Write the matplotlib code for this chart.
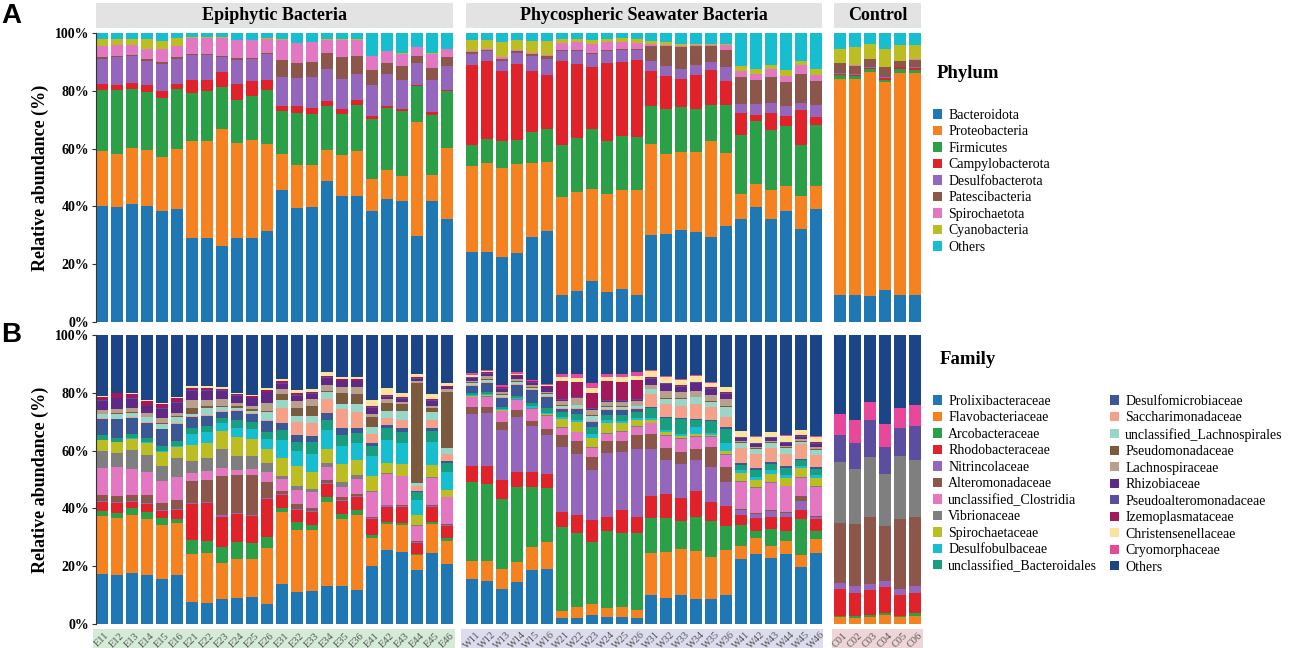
"""Stacked relative-abundance bars (phylum and family) for three sample groups."""

import numpy as np
import matplotlib.pyplot as plt
from matplotlib.patches import Rectangle, Patch

plt.rcParams['font.family'] = ['Liberation Serif', 'DejaVu Serif']

# ---- data ---------------------------------------------------------------
group_names = ["Epiphytic Bacteria", "Phycospheric Seawater Bacteria", "Control"]

samples_epi = ["E11", "E12", "E13", "E14", "E15", "E16",
               "E21", "E22", "E23", "E24", "E25", "E26",
               "E31", "E32", "E33", "E34", "E35", "E36",
               "E41", "E42", "E43", "E44", "E45", "E46"]
samples_sw = ["W11", "W12", "W13", "W14", "W15", "W16",
              "W21", "W22", "W23", "W24", "W25", "W26",
              "W31", "W32", "W33", "W34", "W35", "W36",
              "W41", "W42", "W43", "W44", "W45", "W46"]
samples_ctrl = ["C01", "C02", "C03", "C04", "C05", "C06"]

phyla = ["Bacteroidota", "Proteobacteria", "Firmicutes", "Campylobacterota",
         "Desulfobacterota", "Patescibacteria", "Spirochaetota", "Cyanobacteria",
         "Others"]
phylum_colors = ["#1f77b4", "#f58220", "#2ca048", "#e0232a", "#9467bd",
                 "#8c564b", "#e377c2", "#bcbd22", "#17becf"]

# one row per sample, columns in the order of `phyla`
phylum_epi = [
    [40.3, 19.0, 21.1, 2.0, 8.7, 0.5, 3.8, 2.5, 2.1],
    [39.7, 18.5, 22.2, 1.7, 9.6, 0.5, 3.5, 2.2, 2.1],
    [40.7, 19.6, 20.3, 2.1, 9.2, 0.5, 3.3, 2.2, 2.1],
    [40.3, 19.1, 20.1, 2.5, 8.4, 0.5, 3.6, 3.4, 2.1],
    [38.3, 18.7, 20.5, 2.3, 9.5, 0.7, 4.5, 2.8, 2.7],
    [39.1, 20.9, 20.6, 1.9, 8.6, 0.6, 3.7, 2.8, 1.8],
    [29.0, 33.6, 16.5, 4.5, 8.9, 0.3, 5.5, 0.3, 1.4],
    [29.0, 33.7, 17.1, 4.1, 8.4, 0.3, 5.7, 0.2, 1.5],
    [26.3, 40.6, 14.4, 5.2, 5.2, 0.3, 6.3, 0.2, 1.5],
    [29.0, 33.1, 14.6, 5.5, 8.6, 0.5, 6.2, 0.2, 2.3],
    [29.2, 33.8, 15.3, 5.2, 7.5, 0.5, 6.0, 0.2, 2.3],
    [31.4, 30.3, 18.7, 3.5, 8.8, 0.3, 4.9, 0.2, 1.9],
    [45.6, 12.5, 15.0, 1.5, 10.2, 6.0, 6.7, 0.3, 2.2],
    [39.3, 14.9, 18.1, 2.3, 9.8, 5.2, 6.9, 0.2, 3.3],
    [39.7, 14.7, 17.6, 2.0, 10.7, 5.3, 6.8, 0.2, 3.0],
    [48.7, 10.7, 15.5, 1.7, 11.1, 5.4, 4.6, 0.2, 2.1],
    [43.5, 14.4, 14.2, 1.6, 10.5, 7.4, 6.1, 0.2, 2.1],
    [43.7, 15.6, 15.9, 1.7, 9.0, 6.0, 5.8, 0.2, 2.1],
    [38.3, 11.2, 20.9, 1.0, 10.7, 5.0, 4.8, 0.2, 7.9],
    [42.6, 10.1, 21.3, 0.9, 11.0, 3.7, 4.1, 0.2, 6.1],
    [42.0, 8.6, 22.3, 0.8, 10.2, 4.6, 4.2, 0.3, 7.0],
    [29.6, 39.5, 12.4, 0.6, 7.5, 2.3, 3.1, 0.2, 4.8],
    [42.0, 8.7, 21.0, 0.8, 11.4, 4.0, 4.8, 0.3, 7.0],
    [35.6, 24.6, 19.6, 0.6, 8.1, 3.2, 2.8, 0.0, 5.5],
]
phylum_sw = [
    [24.1, 29.8, 7.5, 27.4, 3.9, 0.6, 0.4, 3.8, 2.5],
    [24.1, 31.0, 8.2, 26.9, 3.5, 0.5, 0.3, 3.2, 2.3],
    [22.4, 30.9, 9.2, 24.2, 3.5, 0.8, 0.6, 5.2, 3.2],
    [23.9, 30.7, 8.5, 26.2, 3.8, 0.6, 0.3, 3.5, 2.5],
    [29.3, 25.7, 10.6, 21.1, 5.2, 0.8, 0.5, 4.1, 2.7],
    [31.4, 24.0, 11.5, 18.7, 5.4, 0.9, 0.4, 4.8, 2.9],
    [9.2, 34.1, 18.1, 29.0, 3.3, 0.3, 2.5, 1.4, 2.1],
    [10.8, 34.2, 18.7, 25.6, 4.4, 0.3, 2.8, 1.1, 2.1],
    [14.3, 31.8, 20.7, 21.3, 4.6, 0.3, 3.2, 1.5, 2.3],
    [10.3, 34.0, 18.4, 26.9, 4.1, 0.3, 2.9, 1.1, 2.0],
    [11.4, 34.2, 18.6, 25.7, 4.1, 0.3, 2.6, 1.4, 1.7],
    [9.5, 36.3, 18.2, 26.8, 3.2, 0.3, 2.2, 1.5, 2.0],
    [30.0, 31.7, 13.2, 12.1, 3.2, 5.4, 0.6, 0.9, 2.9],
    [30.6, 27.5, 15.6, 11.5, 3.5, 6.7, 0.5, 0.9, 3.2],
    [31.9, 26.8, 15.7, 9.8, 3.5, 7.3, 0.6, 0.5, 3.9],
    [31.1, 27.7, 15.0, 11.6, 3.6, 6.4, 0.5, 0.3, 3.8],
    [29.3, 33.2, 12.7, 12.1, 2.7, 5.4, 0.5, 0.3, 3.8],
    [33.1, 25.4, 16.7, 8.3, 4.6, 6.1, 1.5, 0.5, 3.8],
    [35.6, 8.7, 20.5, 7.5, 3.1, 9.3, 2.3, 1.5, 11.5],
    [39.8, 8.0, 21.6, 2.3, 3.7, 8.5, 2.0, 1.8, 12.3],
    [35.8, 9.8, 21.0, 5.7, 3.5, 8.9, 2.8, 1.5, 11.0],
    [38.3, 8.9, 20.7, 3.5, 3.2, 8.3, 2.3, 2.1, 12.7],
    [32.2, 11.3, 17.6, 12.1, 2.6, 10.0, 3.2, 1.4, 9.6],
    [39.1, 8.1, 21.1, 2.6, 4.3, 8.1, 2.3, 2.1, 12.3],
]
phylum_ctrl = [
    [9.2, 75.2, 1.2, 0.5, 0.2, 3.4, 0.1, 5.0, 5.4],
    [9.5, 74.7, 0.8, 0.5, 0.2, 3.0, 0.1, 6.2, 5.0],
    [8.9, 77.6, 1.0, 0.5, 0.2, 2.8, 0.1, 5.1, 3.8],
    [11.2, 71.7, 1.0, 0.6, 0.2, 3.4, 0.1, 6.4, 5.4],
    [9.2, 77.0, 1.3, 0.6, 0.2, 1.9, 0.1, 5.7, 4.0],
    [9.5, 76.7, 0.9, 0.8, 0.2, 2.7, 0.1, 5.1, 4.0],
]

families = ["Prolixibacteraceae", "Flavobacteriaceae", "Arcobacteraceae",
            "Rhodobacteraceae", "Nitrincolaceae", "Alteromonadaceae",
            "unclassified_Clostridia", "Vibrionaceae", "Spirochaetaceae",
            "Desulfobulbaceae", "unclassified_Bacteroidales",
            "Desulfomicrobiaceae", "Saccharimonadaceae",
            "unclassified_Lachnospirales", "Pseudomonadaceae", "Lachnospiraceae",
            "Rhizobiaceae", "Pseudoalteromonadaceae", "Izemoplasmataceae",
            "Christensenellaceae", "Cryomorphaceae", "Others"]
family_colors = ["#1f77b4", "#f58220", "#2ca048", "#e0232a", "#9467bd",
                 "#8c564b", "#e377c2", "#7f7f7f", "#bcbd22", "#17becf",
                 "#1a9e80", "#3b5796", "#f5a088", "#99d6c8", "#7b5a3e",
                 "#b8a08c", "#5e2a86", "#5b4e9e", "#a3195b", "#fbe39e",
                 "#e8489a", "#1b4586"]

# one row per sample, columns in the order of `families`
family_epi = [
    [17.2, 20.1, 1.9, 3.1, 0.3, 2.2, 9.2, 5.8, 3.8, 0.3, 1.4, 5.8, 0.2, 1.3, 0.3, 1.3, 3.2, 0.3, 1.0, 0.4, 0.0, 21.0],
    [16.9, 20.0, 1.6, 3.4, 0.3, 2.2, 10.2, 4.6, 3.8, 0.3, 1.4, 6.4, 0.2, 1.5, 0.3, 1.4, 3.8, 0.3, 1.4, 0.3, 0.0, 20.0],
    [17.7, 20.0, 2.6, 2.0, 0.3, 2.3, 8.9, 6.6, 3.8, 0.3, 1.4, 5.8, 0.2, 1.4, 0.3, 1.3, 3.4, 0.3, 1.2, 0.3, 0.0, 20.3],
    [16.9, 19.4, 2.5, 2.9, 0.3, 2.8, 7.8, 6.0, 4.1, 0.3, 1.7, 5.2, 0.2, 1.6, 0.3, 1.2, 2.3, 0.3, 1.5, 0.5, 0.0, 22.5],
    [15.8, 18.8, 2.5, 2.5, 0.3, 2.4, 7.7, 5.5, 4.9, 0.3, 1.7, 5.9, 0.2, 1.6, 0.3, 1.7, 3.2, 0.3, 1.4, 0.3, 0.0, 24.0],
    [17.2, 18.2, 1.7, 3.1, 0.3, 3.0, 8.3, 6.6, 3.8, 0.3, 1.9, 6.1, 0.2, 2.1, 0.3, 1.3, 3.5, 0.3, 1.5, 0.3, 0.0, 21.7],
    [7.7, 16.5, 4.8, 12.4, 0.4, 7.4, 2.9, 4.0, 5.4, 3.8, 2.3, 3.8, 0.3, 0.6, 2.2, 2.6, 3.0, 0.3, 0.8, 0.8, 0.0, 17.5],
    [7.4, 17.0, 4.4, 13.1, 0.4, 7.7, 2.9, 4.4, 5.4, 3.8, 1.9, 3.5, 0.3, 2.7, 0.5, 2.0, 3.2, 0.3, 0.8, 0.8, 0.0, 17.5],
    [8.6, 12.7, 5.4, 10.6, 0.5, 13.7, 2.5, 6.7, 6.4, 2.5, 1.8, 2.2, 0.3, 1.4, 0.4, 2.3, 2.9, 0.3, 0.5, 0.6, 0.0, 18.0],
    [8.9, 13.8, 6.0, 9.5, 0.4, 13.2, 2.0, 4.8, 6.7, 3.1, 2.7, 3.1, 0.3, 0.7, 0.8, 1.2, 2.3, 0.3, 0.3, 0.5, 0.0, 20.2],
    [9.2, 13.5, 5.4, 9.3, 0.4, 13.7, 2.3, 4.6, 5.8, 3.4, 2.3, 2.9, 0.3, 0.8, 0.8, 1.0, 2.5, 0.3, 0.4, 0.5, 0.0, 20.8],
    [6.8, 19.6, 3.8, 13.2, 0.4, 5.4, 3.4, 3.2, 4.9, 3.5, 2.3, 4.0, 0.3, 2.8, 0.4, 2.5, 3.8, 0.3, 0.5, 0.8, 0.0, 18.3],
    [13.8, 24.8, 1.7, 4.3, 0.5, 0.9, 4.3, 0.9, 6.4, 6.2, 3.3, 2.5, 5.3, 2.5, 2.3, 1.5, 2.0, 0.3, 0.5, 0.8, 0.0, 15.2],
    [11.2, 21.5, 2.7, 4.2, 0.4, 1.4, 4.9, 1.5, 6.9, 5.1, 3.4, 2.4, 4.3, 2.3, 2.6, 2.6, 1.7, 0.3, 0.5, 1.3, 0.0, 18.9],
    [11.5, 21.0, 1.9, 4.4, 0.4, 1.0, 5.5, 1.2, 6.0, 6.1, 4.0, 2.3, 4.6, 2.3, 3.5, 2.3, 1.7, 0.3, 0.4, 1.0, 0.0, 18.9],
    [13.2, 29.1, 1.9, 4.4, 0.4, 0.8, 4.6, 1.4, 4.9, 6.7, 3.5, 2.3, 4.8, 2.3, 0.5, 2.2, 2.3, 0.3, 0.3, 1.3, 0.0, 13.0],
    [13.2, 23.3, 1.7, 4.3, 0.4, 1.1, 3.5, 1.7, 6.1, 6.2, 4.1, 2.4, 6.5, 1.8, 3.7, 2.0, 2.0, 0.3, 0.4, 0.8, 0.0, 14.6],
    [11.8, 25.9, 1.9, 4.4, 0.4, 0.8, 5.1, 1.2, 5.4, 5.8, 3.4, 1.9, 5.4, 2.9, 3.2, 2.5, 2.0, 0.3, 0.4, 0.8, 0.0, 14.6],
    [20.0, 9.9, 1.1, 5.3, 0.4, 0.3, 8.9, 0.2, 5.2, 7.1, 3.5, 0.9, 3.2, 2.5, 3.2, 1.2, 2.1, 0.3, 0.4, 2.0, 0.0, 22.6],
    [25.8, 9.0, 0.8, 5.2, 0.4, 0.3, 10.6, 0.2, 3.7, 8.0, 4.2, 0.8, 2.5, 2.4, 2.8, 1.5, 0.8, 0.3, 0.4, 2.2, 0.0, 18.5],
    [25.0, 9.2, 0.8, 5.6, 0.4, 0.3, 9.9, 0.2, 4.1, 7.2, 4.0, 1.2, 3.0, 3.1, 2.3, 0.8, 0.9, 0.3, 0.4, 1.3, 0.0, 20.3],
    [18.7, 5.4, 0.3, 3.7, 0.4, 0.3, 5.4, 0.2, 3.5, 5.4, 2.6, 0.4, 1.7, 1.2, 34.8, 0.6, 0.9, 0.3, 0.3, 1.0, 0.0, 13.7],
    [24.7, 9.9, 0.8, 5.2, 0.4, 0.3, 9.4, 0.2, 4.5, 8.0, 3.6, 1.1, 2.8, 2.7, 1.5, 0.8, 1.7, 0.3, 0.4, 1.6, 0.0, 20.5],
    [21.0, 8.0, 0.8, 4.1, 0.4, 0.3, 9.4, 0.2, 2.5, 6.1, 3.2, 0.5, 2.5, 2.3, 19.2, 1.2, 0.5, 0.2, 0.2, 1.2, 0.0, 16.6],
]
family_sw = [
    [15.8, 6.3, 27.7, 5.5, 18.3, 2.4, 3.5, 0.3, 0.3, 0.3, 0.5, 2.5, 0.3, 0.8, 0.3, 0.6, 0.9, 0.2, 0.3, 0.6, 0.6, 13.4],
    [15.2, 6.9, 27.3, 6.1, 18.7, 2.3, 3.5, 0.3, 0.3, 0.3, 0.8, 3.2, 0.3, 0.8, 0.3, 1.0, 0.8, 0.2, 0.3, 0.5, 0.5, 12.2],
    [12.0, 7.2, 24.2, 6.7, 17.0, 2.8, 3.8, 0.3, 0.3, 0.3, 0.6, 3.2, 0.3, 0.7, 0.3, 0.8, 1.0, 0.2, 0.3, 0.3, 0.4, 17.5],
    [14.6, 6.9, 26.3, 5.4, 19.0, 2.6, 3.5, 0.3, 0.2, 0.2, 0.6, 3.9, 0.3, 0.8, 0.3, 0.8, 0.8, 0.2, 0.3, 0.4, 0.5, 13.1],
    [18.9, 7.8, 21.1, 5.1, 16.1, 1.9, 4.0, 0.3, 0.3, 0.4, 1.2, 4.4, 0.3, 0.6, 0.3, 0.6, 0.8, 0.2, 0.3, 0.3, 0.3, 15.6],
    [18.9, 9.6, 18.7, 4.6, 13.8, 2.1, 4.3, 0.3, 0.3, 0.5, 1.8, 3.8, 0.3, 0.6, 0.3, 0.6, 1.5, 0.2, 0.3, 0.3, 0.3, 17.0],
    [2.2, 2.4, 29.3, 5.3, 22.7, 4.0, 2.5, 0.3, 2.7, 0.8, 1.8, 0.9, 0.4, 0.8, 0.3, 1.5, 0.3, 0.3, 6.4, 1.2, 1.0, 13.7],
    [2.2, 3.8, 25.6, 6.4, 21.2, 4.4, 3.1, 0.3, 3.2, 0.8, 2.2, 1.7, 0.4, 0.8, 0.3, 2.1, 0.3, 0.3, 5.0, 1.4, 1.4, 13.7],
    [3.1, 3.8, 21.6, 7.7, 17.3, 4.6, 3.0, 0.3, 3.0, 1.7, 2.1, 2.0, 0.4, 1.6, 0.3, 1.7, 0.3, 0.3, 5.2, 2.0, 1.7, 16.6],
    [2.3, 3.3, 26.9, 4.9, 22.2, 4.3, 2.2, 0.3, 3.8, 0.8, 1.8, 1.7, 0.4, 0.8, 0.3, 1.5, 0.3, 0.3, 6.6, 1.5, 0.9, 13.6],
    [2.3, 3.7, 25.7, 7.9, 20.2, 4.0, 3.0, 0.3, 2.8, 0.8, 2.0, 1.7, 0.4, 0.8, 0.3, 1.5, 0.3, 0.3, 6.4, 1.5, 1.1, 13.6],
    [2.2, 2.6, 26.9, 5.7, 23.7, 4.8, 2.9, 0.3, 2.0, 0.8, 1.8, 1.1, 0.4, 0.6, 0.3, 1.6, 0.3, 0.3, 6.7, 1.4, 1.5, 12.8],
    [10.0, 14.7, 12.2, 7.5, 16.3, 5.2, 3.7, 0.3, 0.8, 0.8, 3.3, 0.4, 4.7, 1.5, 0.3, 1.4, 2.1, 0.3, 0.3, 2.0, 0.3, 12.2],
    [9.1, 15.9, 11.9, 8.3, 11.7, 4.0, 4.4, 0.3, 0.8, 0.8, 4.1, 0.4, 4.5, 1.8, 0.3, 2.6, 2.2, 0.3, 0.3, 2.0, 0.2, 14.3],
    [10.0, 15.9, 10.0, 7.8, 11.8, 4.1, 4.6, 0.3, 0.8, 0.8, 5.1, 0.4, 4.3, 2.3, 0.3, 2.0, 2.0, 0.3, 0.3, 1.8, 0.2, 15.3],
    [8.6, 16.7, 11.6, 9.1, 10.9, 3.8, 4.0, 0.3, 0.9, 2.3, 2.5, 0.4, 5.0, 2.3, 0.3, 2.0, 2.6, 0.3, 0.3, 2.0, 0.2, 13.9],
    [8.6, 14.9, 12.4, 6.7, 12.4, 6.9, 3.4, 0.3, 0.6, 0.6, 4.0, 0.4, 4.8, 1.7, 0.3, 2.2, 1.9, 0.3, 0.3, 1.5, 0.2, 16.6],
    [10.0, 15.6, 8.3, 7.2, 8.3, 5.0, 4.4, 0.3, 1.0, 2.7, 4.8, 0.6, 3.8, 3.3, 0.3, 2.4, 1.8, 0.3, 0.3, 1.7, 0.2, 18.0],
    [22.7, 4.4, 7.3, 3.6, 1.7, 0.3, 9.4, 0.3, 2.7, 1.1, 2.0, 0.5, 5.3, 1.7, 0.3, 0.5, 1.0, 0.2, 0.2, 1.9, 0.2, 33.3],
    [24.4, 5.4, 2.7, 4.3, 1.4, 0.4, 8.9, 0.3, 2.3, 1.2, 2.4, 0.5, 5.0, 1.7, 0.3, 0.6, 1.0, 0.2, 0.2, 2.0, 0.2, 35.3],
    [22.9, 4.2, 6.0, 4.2, 1.9, 0.5, 9.3, 0.3, 2.9, 1.2, 2.3, 0.5, 4.9, 1.7, 0.3, 0.5, 1.0, 0.2, 0.2, 1.6, 0.2, 33.5],
    [24.4, 4.6, 3.5, 4.8, 1.2, 0.4, 9.0, 0.3, 2.5, 1.2, 2.5, 0.5, 4.4, 1.9, 0.3, 0.5, 1.1, 0.2, 0.2, 2.0, 0.2, 34.9],
    [19.8, 4.0, 12.4, 3.2, 2.9, 1.7, 6.3, 0.3, 3.0, 1.0, 1.8, 0.5, 5.0, 0.7, 0.3, 0.8, 0.9, 0.2, 0.2, 1.7, 0.2, 32.7],
    [24.4, 5.0, 2.7, 4.1, 0.9, 0.3, 9.8, 0.3, 2.9, 1.2, 2.0, 0.5, 4.4, 1.7, 0.3, 0.5, 1.3, 0.2, 0.2, 2.0, 0.2, 34.9],
]
family_ctrl = [
    [0.0, 2.5, 0.4, 9.1, 2.1, 21.0, 0.0, 20.8, 0, 0, 0, 0, 0, 0, 0, 0, 0, 9.4, 0, 0, 7.3, 27.4],
    [0.0, 2.2, 0.6, 7.8, 2.5, 21.5, 0.0, 19.2, 0, 0, 0, 0, 0, 0, 0, 0, 0, 8.9, 0, 0, 7.8, 29.5],
    [0.0, 2.5, 0.6, 8.7, 1.9, 23.4, 0.0, 20.7, 0, 0, 0, 0, 0, 0, 0, 0, 0, 12.7, 0, 0, 6.3, 23.2],
    [0.0, 3.1, 0.8, 9.0, 2.0, 19.0, 0.0, 17.9, 0, 0, 0, 0, 0, 0, 0, 0, 0, 9.3, 0, 0, 8.0, 30.9],
    [0.0, 2.3, 0.5, 7.2, 2.1, 24.2, 0.0, 21.8, 0, 0, 0, 0, 0, 0, 0, 0, 0, 9.8, 0, 0, 7.0, 25.1],
    [0.0, 2.9, 0.8, 6.9, 2.6, 23.9, 0.0, 19.8, 0, 0, 0, 0, 0, 0, 0, 0, 0, 11.6, 0, 0, 7.2, 24.3],
]

band_colors = ["#d5ebd8", "#dcdcee", "#eed5d8"]

# ---- layout (pixel boxes of the 1292x648 canvas) --------------------------
W, H = 1292, 648
panel_x = [(96, 453), (466, 822), (834, 921)]
row_y = [(33, 322), (335, 624)]


def fig_box(x0, y0, x1, y1):
    """Pixel box (top-left origin) -> figure fraction [left, bottom, w, h]."""
    return [x0 / W, 1 - y1 / H, (x1 - x0) / W, (y1 - y0) / H]


def stacked(ax, table, colors):
    values = np.asarray(table, dtype=float)
    values = values / values.sum(axis=1, keepdims=True) * 100
    x = np.arange(values.shape[0])
    bottom = np.zeros(values.shape[0])
    for j in range(values.shape[1]):
        ax.bar(x, values[:, j], bottom=bottom, width=0.8, color=colors[j],
               linewidth=0)
        bottom += values[:, j]
    ax.set_xlim(-0.4, values.shape[0] - 0.6)
    ax.set_ylim(0, 100)


fig = plt.figure(figsize=(W / 100, H / 100), dpi=100)

sample_sets = [samples_epi, samples_sw, samples_ctrl]
rows = [
    ([phylum_epi, phylum_sw, phylum_ctrl], phylum_colors),
    ([family_epi, family_sw, family_ctrl], family_colors),
]

for r, (tables, colors) in enumerate(rows):
    for g, table in enumerate(tables):
        ax = fig.add_axes(fig_box(panel_x[g][0], row_y[r][0], panel_x[g][1], row_y[r][1]))
        stacked(ax, table, colors)
        for side in ["top", "right", "bottom", "left"]:
            ax.spines[side].set_visible(False)
        if g == 0:
            ax.spines["left"].set_visible(True)
            ax.spines["left"].set_color("#333333")
            ax.spines["left"].set_linewidth(0.8)
            ax.set_yticks([0, 20, 40, 60, 80, 100])
            ax.set_yticklabels(["0%", "20%", "40%", "60%", "80%", "100%"],
                               fontsize=10, fontweight="bold")
            ax.tick_params(axis="y", length=3, width=0.8, color="#333333", pad=2)
            ax.set_ylabel("Relative abundance (%)", fontsize=13,
                          fontweight="bold", labelpad=4)
        else:
            ax.set_yticks([])
        if r == 1:
            ax.set_xticks(np.arange(len(sample_sets[g])))
            ax.set_xticklabels(sample_sets[g], rotation=45, ha="center",
                               va="center", rotation_mode="anchor",
                               fontsize=7.5, color="#555555")
            ax.tick_params(axis="x", length=0, pad=11.5)
        else:
            ax.set_xticks([])

# facet strips on top
for g, name in enumerate(group_names):
    x0, x1 = panel_x[g]
    fig.add_artist(Rectangle((x0 / W, 1 - 28 / H), (x1 - x0) / W, 25 / H,
                             transform=fig.transFigure, facecolor="#e3e3e3",
                             edgecolor="none", zorder=0))
    fig.text((x0 + x1) / 2 / W, 1 - 16 / H, name, ha="center", va="center",
             fontsize=13, fontweight="bold")

# coloured bands behind the sample labels
band_x = [(93, 455), (461, 823), (832, 923)]
for g, (x0, x1) in enumerate(band_x):
    fig.add_artist(Rectangle((x0 / W, 0), (x1 - x0) / W, 19 / H,
                             transform=fig.transFigure,
                             facecolor=band_colors[g], edgecolor="none",
                             zorder=-1))

# panel letters
fig.text(11 / W, 1 - 16 / H, "A", ha="center", va="center", fontsize=20,
         fontweight="bold", family="Liberation Sans")
fig.text(11 / W, 1 - 335 / H, "B", ha="center", va="center", fontsize=20,
         fontweight="bold", family="Liberation Sans")

# legends
fig.text(937 / W, 1 - 73 / H, "Phylum", ha="left", va="center", fontsize=13.5,
         fontweight="bold")
phylum_handles = [Patch(facecolor=c, edgecolor="none") for c in phylum_colors]
fig.legend(phylum_handles, phyla, loc="upper left",
           bbox_to_anchor=(933 / W, 1 - 109 / H), frameon=False, fontsize=10,
           handlelength=0.65, handleheight=0.65, handletextpad=0.45,
           labelspacing=0.25, borderpad=0, borderaxespad=0)

fig.text(940 / W, 1 - 359 / H, "Family", ha="left", va="center", fontsize=13.5,
         fontweight="bold")
family_handles = [Patch(facecolor=c, edgecolor="none") for c in family_colors]
fig.legend(family_handles, families, loc="upper left", ncol=2,
           bbox_to_anchor=(933 / W, 1 - 395 / H), frameon=False, fontsize=10,
           handlelength=0.65, handleheight=0.65, handletextpad=0.45,
           labelspacing=0.25, columnspacing=0.9, borderpad=0, borderaxespad=0)

fig.savefig("out.png", dpi=100)
